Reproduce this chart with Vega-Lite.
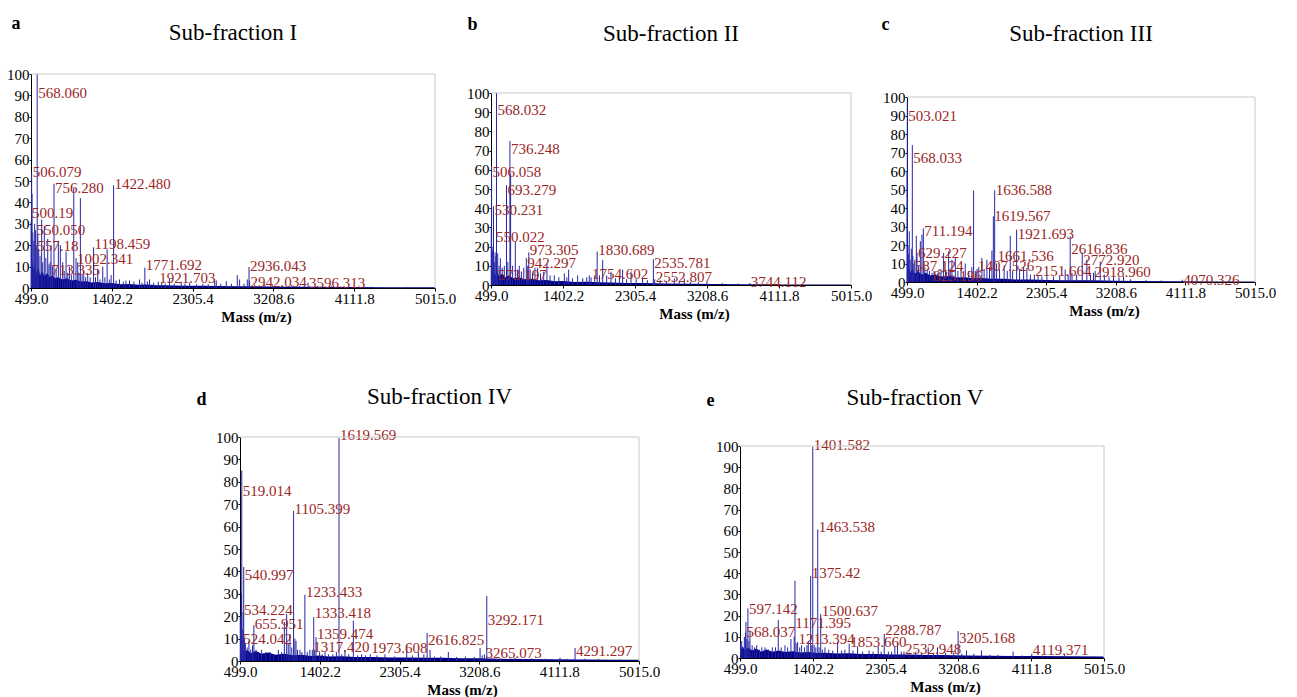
{
"$schema": "https://vega.github.io/schema/vega-lite/v6.json",
"padding": {"left": 6, "top": 14, "right": 0, "bottom": 0},
"background": "white",
"config": {
 "view": {"stroke": null},
 "font": "Liberation Serif",
 "title": {"font": "Liberation Serif", "fontSize": 23, "fontWeight": "normal", "color": "black", "anchor": "middle", "frame": "group"},
 "axis": {"labelFont": "Liberation Serif", "labelFontSize": 15, "labelColor": "black", "domainColor": "black", "tickColor": "black", "grid": false, "titleFont": "Liberation Serif", "titleColor": "black", "labelFlush": false, "labelOverlap": false},
 "axisX": {"format": ".1f", "tickSize": 3, "labelPadding": 0, "titleFontSize": 15, "titleFontWeight": "bold", "titlePadding": 3},
 "axisY": {"tickSize": 2, "labelPadding": 0, "titleAngle": 0, "titleAlign": "left", "titleBaseline": "alphabetic", "titleFontSize": 18, "titleFontWeight": "bold"}
},
"datasets": {
 "peaks": [
  {"p":"a","mz":500,"y":31},{"p":"a","mz":506.079,"y":54},{"p":"a","mz":511,"y":44},{"p":"a","mz":520,"y":26},{"p":"a","mz":530,"y":22},{"p":"a","mz":540,"y":30},{"p":"a","mz":550.05,"y":27},{"p":"a","mz":557.18,"y":20},{"p":"a","mz":568.06,"y":100},{"p":"a","mz":575,"y":25},{"p":"a","mz":585,"y":18},{"p":"a","mz":600,"y":15},{"p":"a","mz":618,"y":32},{"p":"a","mz":630,"y":12},{"p":"a","mz":648,"y":29},{"p":"a","mz":665,"y":14},{"p":"a","mz":686,"y":23},{"p":"a","mz":700,"y":11},{"p":"a","mz":713.335,"y":12},{"p":"a","mz":723,"y":20},{"p":"a","mz":740,"y":10},{"p":"a","mz":756.28,"y":48.7},{"p":"a","mz":780,"y":9},{"p":"a","mz":805,"y":22},{"p":"a","mz":827,"y":20},{"p":"a","mz":853,"y":12},{"p":"a","mz":870,"y":8},{"p":"a","mz":891,"y":17},{"p":"a","mz":910,"y":7},{"p":"a","mz":928,"y":10},{"p":"a","mz":950,"y":6},{"p":"a","mz":977,"y":46.6},{"p":"a","mz":1002.341,"y":14},{"p":"a","mz":1021,"y":12},{"p":"a","mz":1035,"y":7},{"p":"a","mz":1051,"y":42},{"p":"a","mz":1070,"y":6},{"p":"a","mz":1089,"y":8},{"p":"a","mz":1110,"y":5},{"p":"a","mz":1133,"y":7},{"p":"a","mz":1160,"y":5},{"p":"a","mz":1198.459,"y":19},{"p":"a","mz":1220,"y":5},{"p":"a","mz":1245,"y":9},{"p":"a","mz":1270,"y":4},{"p":"a","mz":1301,"y":10},{"p":"a","mz":1325,"y":5},{"p":"a","mz":1350,"y":18},{"p":"a","mz":1375,"y":4},{"p":"a","mz":1395,"y":6},{"p":"a","mz":1422.48,"y":48},{"p":"a","mz":1450,"y":3.5},{"p":"a","mz":1488,"y":4},{"p":"a","mz":1530,"y":3},{"p":"a","mz":1560,"y":3.5},{"p":"a","mz":1600,"y":3.5},{"p":"a","mz":1650,"y":3},{"p":"a","mz":1712,"y":4},{"p":"a","mz":1740,"y":2.5},{"p":"a","mz":1771.692,"y":9.5},{"p":"a","mz":1800,"y":3},{"p":"a","mz":1824,"y":4},{"p":"a","mz":1870,"y":2.5},{"p":"a","mz":1921.703,"y":3},{"p":"a","mz":1960,"y":2.5},{"p":"a","mz":2000,"y":2},{"p":"a","mz":2048,"y":4.5},{"p":"a","mz":2100,"y":2},{"p":"a","mz":2178,"y":3},{"p":"a","mz":2220,"y":2},{"p":"a","mz":2272,"y":2.5},{"p":"a","mz":2350,"y":1.8},{"p":"a","mz":2420,"y":2},{"p":"a","mz":2480,"y":1.8},{"p":"a","mz":2552,"y":4},{"p":"a","mz":2570,"y":3.5},{"p":"a","mz":2620,"y":2},{"p":"a","mz":2682,"y":3.2},{"p":"a","mz":2740,"y":2},{"p":"a","mz":2805,"y":6},{"p":"a","mz":2831,"y":4},{"p":"a","mz":2880,"y":2},{"p":"a","mz":2917,"y":4},{"p":"a","mz":2936.043,"y":9.8},{"p":"a","mz":2942.034,"y":3.5},{"p":"a","mz":3000,"y":1.5},{"p":"a","mz":3112,"y":1.5},{"p":"a","mz":3200,"y":1.2},{"p":"a","mz":3300,"y":1},{"p":"a","mz":3410,"y":1.2},{"p":"a","mz":3500,"y":1},{"p":"a","mz":3596.313,"y":2.5},{"p":"a","mz":3700,"y":0.9},{"p":"a","mz":3858,"y":0.8},{"p":"a","mz":4000,"y":0.7},{"p":"a","mz":4300,"y":0.6},{"p":"a","mz":4700,"y":0.5},
  {"p":"b","mz":502,"y":30},{"p":"b","mz":506.058,"y":62},{"p":"b","mz":512,"y":20},{"p":"b","mz":520,"y":18},{"p":"b","mz":530.231,"y":41},{"p":"b","mz":540,"y":12},{"p":"b","mz":550.022,"y":17},{"p":"b","mz":560,"y":15},{"p":"b","mz":568.032,"y":100},{"p":"b","mz":573.197,"y":8},{"p":"b","mz":583,"y":16.5},{"p":"b","mz":600,"y":10},{"p":"b","mz":616,"y":14},{"p":"b","mz":640,"y":9},{"p":"b","mz":666,"y":10},{"p":"b","mz":693.279,"y":52},{"p":"b","mz":710,"y":12},{"p":"b","mz":736.248,"y":75},{"p":"b","mz":745,"y":58},{"p":"b","mz":770,"y":10},{"p":"b","mz":804,"y":22.6},{"p":"b","mz":830,"y":8},{"p":"b","mz":854,"y":10},{"p":"b","mz":880,"y":7},{"p":"b","mz":910,"y":9},{"p":"b","mz":942.297,"y":14},{"p":"b","mz":960,"y":10},{"p":"b","mz":973.305,"y":17},{"p":"b","mz":990,"y":8},{"p":"b","mz":1020,"y":6},{"p":"b","mz":1050,"y":9},{"p":"b","mz":1084,"y":9},{"p":"b","mz":1120,"y":6},{"p":"b","mz":1160,"y":7},{"p":"b","mz":1201,"y":11},{"p":"b","mz":1240,"y":5},{"p":"b","mz":1293,"y":5},{"p":"b","mz":1350,"y":4},{"p":"b","mz":1419,"y":6},{"p":"b","mz":1450,"y":4},{"p":"b","mz":1473,"y":8},{"p":"b","mz":1520,"y":3.5},{"p":"b","mz":1586,"y":5},{"p":"b","mz":1650,"y":3.5},{"p":"b","mz":1700,"y":4},{"p":"b","mz":1732,"y":5},{"p":"b","mz":1754.602,"y":4},{"p":"b","mz":1800,"y":5},{"p":"b","mz":1830.689,"y":17.4},{"p":"b","mz":1860,"y":5},{"p":"b","mz":1900,"y":13},{"p":"b","mz":1950,"y":5},{"p":"b","mz":2004,"y":7},{"p":"b","mz":2060,"y":3.5},{"p":"b","mz":2110,"y":4},{"p":"b","mz":2150,"y":8},{"p":"b","mz":2200,"y":3},{"p":"b","mz":2255,"y":7},{"p":"b","mz":2320,"y":3},{"p":"b","mz":2401,"y":4},{"p":"b","mz":2460,"y":2.5},{"p":"b","mz":2535.781,"y":13.4},{"p":"b","mz":2552.807,"y":3},{"p":"b","mz":2620,"y":2.5},{"p":"b","mz":2700,"y":2},{"p":"b","mz":2799,"y":3.5},{"p":"b","mz":2860,"y":2},{"p":"b","mz":2924,"y":3.5},{"p":"b","mz":3000,"y":1.5},{"p":"b","mz":3100,"y":1.5},{"p":"b","mz":3208,"y":1.7},{"p":"b","mz":3400,"y":1},{"p":"b","mz":3600,"y":0.8},{"p":"b","mz":3744.112,"y":1},{"p":"b","mz":4000,"y":0.6},{"p":"b","mz":4400,"y":0.5},
  {"p":"c","mz":500,"y":60},{"p":"c","mz":503.021,"y":98},{"p":"c","mz":512,"y":20},{"p":"c","mz":520,"y":15},{"p":"c","mz":529,"y":27.4},{"p":"c","mz":540,"y":12},{"p":"c","mz":555,"y":18},{"p":"c","mz":568.033,"y":74},{"p":"c","mz":575,"y":14},{"p":"c","mz":587.124,"y":10},{"p":"c","mz":600,"y":12},{"p":"c","mz":620,"y":25},{"p":"c","mz":629.227,"y":15.7},{"p":"c","mz":650,"y":9},{"p":"c","mz":672,"y":22},{"p":"c","mz":693,"y":25.6},{"p":"c","mz":711.194,"y":29},{"p":"c","mz":730,"y":8},{"p":"c","mz":760,"y":7},{"p":"c","mz":790,"y":6},{"p":"c","mz":823,"y":5},{"p":"c","mz":850,"y":6},{"p":"c","mz":900,"y":5},{"p":"c","mz":940,"y":7},{"p":"c","mz":974,"y":15.7},{"p":"c","mz":1000,"y":6},{"p":"c","mz":1039,"y":16.5},{"p":"c","mz":1060,"y":7},{"p":"c","mz":1082,"y":12},{"p":"c","mz":1126,"y":13.5},{"p":"c","mz":1160,"y":6},{"p":"c","mz":1200,"y":7},{"p":"c","mz":1255,"y":10},{"p":"c","mz":1300,"y":6},{"p":"c","mz":1340,"y":8},{"p":"c","mz":1363,"y":49.4},{"p":"c","mz":1385,"y":6},{"p":"c","mz":1407.526,"y":7},{"p":"c","mz":1430,"y":8},{"p":"c","mz":1471,"y":13},{"p":"c","mz":1500,"y":7},{"p":"c","mz":1536,"y":12},{"p":"c","mz":1570,"y":8},{"p":"c","mz":1601,"y":17},{"p":"c","mz":1619.567,"y":35.5},{"p":"c","mz":1636.588,"y":49.5},{"p":"c","mz":1661.536,"y":10},{"p":"c","mz":1700,"y":7},{"p":"c","mz":1760,"y":9},{"p":"c","mz":1800,"y":6},{"p":"c","mz":1839,"y":25},{"p":"c","mz":1870,"y":6},{"p":"c","mz":1921.693,"y":28.3},{"p":"c","mz":1960,"y":7},{"p":"c","mz":2012,"y":8},{"p":"c","mz":2055,"y":7.5},{"p":"c","mz":2100,"y":4},{"p":"c","mz":2151.664,"y":4},{"p":"c","mz":2200,"y":3.5},{"p":"c","mz":2250,"y":3},{"p":"c","mz":2314,"y":4},{"p":"c","mz":2400,"y":3},{"p":"c","mz":2480,"y":3.5},{"p":"c","mz":2552,"y":6.7},{"p":"c","mz":2590,"y":4},{"p":"c","mz":2616.836,"y":24.7},{"p":"c","mz":2640,"y":5},{"p":"c","mz":2700,"y":4},{"p":"c","mz":2772.92,"y":16},{"p":"c","mz":2833,"y":12},{"p":"c","mz":2880,"y":4},{"p":"c","mz":2918.96,"y":5},{"p":"c","mz":2941,"y":6},{"p":"c","mz":3006,"y":11},{"p":"c","mz":3060,"y":4},{"p":"c","mz":3120,"y":3},{"p":"c","mz":3179,"y":3},{"p":"c","mz":3250,"y":2.5},{"p":"c","mz":3308,"y":3},{"p":"c","mz":3400,"y":1.5},{"p":"c","mz":3600,"y":1},{"p":"c","mz":3800,"y":0.8},{"p":"c","mz":4070.326,"y":1.2},{"p":"c","mz":4400,"y":0.5},
  {"p":"d","mz":502,"y":20},{"p":"d","mz":505,"y":12},{"p":"d","mz":510,"y":17},{"p":"d","mz":515,"y":30},{"p":"d","mz":519.014,"y":85},{"p":"d","mz":524.042,"y":10},{"p":"d","mz":530,"y":14},{"p":"d","mz":534.224,"y":22},{"p":"d","mz":540.997,"y":42},{"p":"d","mz":550,"y":10},{"p":"d","mz":560,"y":8},{"p":"d","mz":580,"y":6},{"p":"d","mz":600,"y":9},{"p":"d","mz":620,"y":5},{"p":"d","mz":640,"y":7},{"p":"d","mz":655.951,"y":16},{"p":"d","mz":680,"y":5},{"p":"d","mz":710,"y":4},{"p":"d","mz":744,"y":5},{"p":"d","mz":790,"y":4},{"p":"d","mz":839,"y":4},{"p":"d","mz":880,"y":3},{"p":"d","mz":933,"y":5},{"p":"d","mz":970,"y":4},{"p":"d","mz":1001,"y":17.4},{"p":"d","mz":1027,"y":21},{"p":"d","mz":1045,"y":8},{"p":"d","mz":1065,"y":12},{"p":"d","mz":1085,"y":6},{"p":"d","mz":1105.399,"y":67},{"p":"d","mz":1120,"y":10},{"p":"d","mz":1133,"y":9},{"p":"d","mz":1150,"y":5},{"p":"d","mz":1178,"y":5},{"p":"d","mz":1200,"y":4},{"p":"d","mz":1233.433,"y":29.6},{"p":"d","mz":1260,"y":4},{"p":"d","mz":1290,"y":5},{"p":"d","mz":1317.42,"y":5},{"p":"d","mz":1333.418,"y":19.6},{"p":"d","mz":1345,"y":5},{"p":"d","mz":1359.474,"y":10.7},{"p":"d","mz":1400,"y":4},{"p":"d","mz":1430,"y":3},{"p":"d","mz":1461,"y":4},{"p":"d","mz":1500,"y":3},{"p":"d","mz":1550,"y":3},{"p":"d","mz":1590,"y":4},{"p":"d","mz":1619.569,"y":99.5},{"p":"d","mz":1650,"y":3},{"p":"d","mz":1687,"y":5},{"p":"d","mz":1730,"y":3},{"p":"d","mz":1782,"y":18},{"p":"d","mz":1830,"y":2.5},{"p":"d","mz":1876,"y":3},{"p":"d","mz":1920,"y":2.5},{"p":"d","mz":1973.608,"y":3},{"p":"d","mz":2050,"y":2.5},{"p":"d","mz":2140,"y":3},{"p":"d","mz":2250,"y":2},{"p":"d","mz":2386,"y":7},{"p":"d","mz":2450,"y":2.5},{"p":"d","mz":2518,"y":4},{"p":"d","mz":2580,"y":3},{"p":"d","mz":2616.825,"y":12.5},{"p":"d","mz":2650,"y":5},{"p":"d","mz":2700,"y":2},{"p":"d","mz":2770,"y":2},{"p":"d","mz":2857,"y":4},{"p":"d","mz":2950,"y":1.8},{"p":"d","mz":3050,"y":2},{"p":"d","mz":3150,"y":1.8},{"p":"d","mz":3216,"y":5.8},{"p":"d","mz":3240,"y":2.5},{"p":"d","mz":3265.073,"y":3},{"p":"d","mz":3292.171,"y":29},{"p":"d","mz":3350,"y":1.5},{"p":"d","mz":3450,"y":1.2},{"p":"d","mz":3612,"y":1.5},{"p":"d","mz":3800,"y":1.2},{"p":"d","mz":3950,"y":1},{"p":"d","mz":4121,"y":1.5},{"p":"d","mz":4200,"y":1},{"p":"d","mz":4291.297,"y":5.8},{"p":"d","mz":4400,"y":1},{"p":"d","mz":4555,"y":1},{"p":"d","mz":4800,"y":0.8},
  {"p":"e","mz":505,"y":7},{"p":"e","mz":520,"y":8},{"p":"e","mz":535,"y":5},{"p":"e","mz":553,"y":10},{"p":"e","mz":568.037,"y":12},{"p":"e","mz":573,"y":17},{"p":"e","mz":585,"y":9},{"p":"e","mz":597.142,"y":23.4},{"p":"e","mz":610,"y":8},{"p":"e","mz":623,"y":13},{"p":"e","mz":650,"y":6},{"p":"e","mz":680,"y":5},{"p":"e","mz":706,"y":6},{"p":"e","mz":740,"y":4},{"p":"e","mz":770,"y":5},{"p":"e","mz":809,"y":5},{"p":"e","mz":850,"y":4},{"p":"e","mz":900,"y":5},{"p":"e","mz":940,"y":5},{"p":"e","mz":974,"y":18},{"p":"e","mz":1010,"y":5},{"p":"e","mz":1057,"y":6},{"p":"e","mz":1090,"y":5},{"p":"e","mz":1131,"y":9},{"p":"e","mz":1171.395,"y":10},{"p":"e","mz":1181,"y":36.4},{"p":"e","mz":1195,"y":7},{"p":"e","mz":1213.394,"y":7.5},{"p":"e","mz":1240,"y":5},{"p":"e","mz":1263,"y":6},{"p":"e","mz":1300,"y":5},{"p":"e","mz":1330,"y":6},{"p":"e","mz":1346,"y":8},{"p":"e","mz":1375.42,"y":38.8},{"p":"e","mz":1390,"y":6},{"p":"e","mz":1401.582,"y":99.7},{"p":"e","mz":1420,"y":6},{"p":"e","mz":1440,"y":5},{"p":"e","mz":1463.538,"y":60.6},{"p":"e","mz":1480,"y":5},{"p":"e","mz":1500.637,"y":20.8},{"p":"e","mz":1520,"y":4},{"p":"e","mz":1553,"y":5},{"p":"e","mz":1600,"y":4},{"p":"e","mz":1650,"y":3.5},{"p":"e","mz":1710,"y":7.5},{"p":"e","mz":1760,"y":3.5},{"p":"e","mz":1800,"y":4},{"p":"e","mz":1853.66,"y":6.7},{"p":"e","mz":1900,"y":3.5},{"p":"e","mz":1958,"y":5.5},{"p":"e","mz":2020,"y":3},{"p":"e","mz":2100,"y":3.5},{"p":"e","mz":2150,"y":3},{"p":"e","mz":2214,"y":5.5},{"p":"e","mz":2250,"y":3},{"p":"e","mz":2288.787,"y":11.4},{"p":"e","mz":2340,"y":3},{"p":"e","mz":2380,"y":3},{"p":"e","mz":2420,"y":5.5},{"p":"e","mz":2453,"y":7.5},{"p":"e","mz":2500,"y":3},{"p":"e","mz":2532.948,"y":3},{"p":"e","mz":2600,"y":2.5},{"p":"e","mz":2680,"y":3},{"p":"e","mz":2750,"y":2.5},{"p":"e","mz":2834,"y":5},{"p":"e","mz":2900,"y":2.5},{"p":"e","mz":2949,"y":5},{"p":"e","mz":3050,"y":2.5},{"p":"e","mz":3150,"y":2.5},{"p":"e","mz":3205.168,"y":12.7},{"p":"e","mz":3250,"y":2},{"p":"e","mz":3309,"y":3.5},{"p":"e","mz":3400,"y":2},{"p":"e","mz":3495,"y":3.5},{"p":"e","mz":3600,"y":1.5},{"p":"e","mz":3700,"y":1.5},{"p":"e","mz":3887,"y":3},{"p":"e","mz":4000,"y":1.2},{"p":"e","mz":4119.371,"y":2},{"p":"e","mz":4250,"y":1.2},{"p":"e","mz":4400,"y":1},{"p":"e","mz":4528,"y":1.5},{"p":"e","mz":4700,"y":1},{"p":"e","mz":4900,"y":0.8}
 ],
 "labels": [
  {"p":"a","t":"568.060","mz":568.06,"y":91},{"p":"a","t":"506.079","mz":506.079,"y":54},{"p":"a","t":"756.280","mz":756.28,"y":46.6},{"p":"a","t":"1422.480","mz":1422.48,"y":48.5},{"p":"a","t":"500.19","mz":500.19,"y":35},{"p":"a","t":"550.050","mz":550.05,"y":27},{"p":"a","t":"557.18","mz":557.18,"y":19.5},{"p":"a","t":"1198.459","mz":1198.459,"y":20.5},{"p":"a","t":"1002.341","mz":1002.341,"y":13.7},{"p":"a","t":"713.335","mz":713.335,"y":8.6},{"p":"a","t":"1771.692","mz":1771.692,"y":10.6},{"p":"a","t":"1921.703","mz":1921.703,"y":4.7},{"p":"a","t":"2936.043","mz":2936.043,"y":10.2},{"p":"a","t":"2942.034","mz":2942.034,"y":2.6},{"p":"a","t":"3596.313","mz":3596.313,"y":2.3},
  {"p":"b","t":"568.032","mz":568.032,"y":91},{"p":"b","t":"736.248","mz":736.248,"y":71},{"p":"b","t":"506.058","mz":506.058,"y":59},{"p":"b","t":"693.279","mz":693.279,"y":49.5},{"p":"b","t":"530.231","mz":530.231,"y":39},{"p":"b","t":"550.022","mz":550.022,"y":25},{"p":"b","t":"973.305","mz":973.305,"y":18},{"p":"b","t":"942.297","mz":942.297,"y":11.6},{"p":"b","t":"573.197","mz":573.197,"y":5.2},{"p":"b","t":"1830.689","mz":1830.689,"y":18},{"p":"b","t":"1754.602","mz":1754.602,"y":5.7},{"p":"b","t":"2535.781","mz":2535.781,"y":11.3},{"p":"b","t":"2552.807","mz":2552.807,"y":4.3},{"p":"b","t":"3744.112","mz":3744.112,"y":1.7},
  {"p":"c","t":"503.021","mz":503.021,"y":90},{"p":"c","t":"568.033","mz":568.033,"y":67},{"p":"c","t":"1636.588","mz":1636.588,"y":50},{"p":"c","t":"1619.567","mz":1619.567,"y":35.5},{"p":"c","t":"711.194","mz":711.194,"y":27.4},{"p":"c","t":"1921.693","mz":1921.693,"y":26},{"p":"c","t":"629.227","mz":629.227,"y":15.7},{"p":"c","t":"2616.836","mz":2616.836,"y":17.8},{"p":"c","t":"1661.536","mz":1661.536,"y":14.2},{"p":"c","t":"2772.920","mz":2772.92,"y":12},{"p":"c","t":"587.124","mz":587.124,"y":8.8},{"p":"c","t":"1407.526","mz":1407.526,"y":8.5},{"p":"c","t":"2151.664","mz":2151.664,"y":5.8},{"p":"c","t":"2918.960","mz":2918.96,"y":5.2},{"p":"c","t":"825.196","mz":825.196,"y":3},{"p":"c","t":"4070.326","mz":4070.326,"y":1.3},
  {"p":"d","t":"1619.569","mz":1619.569,"y":100.7},{"p":"d","t":"519.014","mz":519.014,"y":76},{"p":"d","t":"1105.399","mz":1105.399,"y":68},{"p":"d","t":"540.997","mz":540.997,"y":38.5},{"p":"d","t":"1233.433","mz":1233.433,"y":30.8},{"p":"d","t":"534.224","mz":534.224,"y":22.6},{"p":"d","t":"1333.418","mz":1333.418,"y":21.4},{"p":"d","t":"3292.171","mz":3292.171,"y":18.5},{"p":"d","t":"655.951","mz":655.951,"y":16.7},{"p":"d","t":"1359.474","mz":1359.474,"y":12.2},{"p":"d","t":"524.042","mz":524.042,"y":10},{"p":"d","t":"2616.825","mz":2616.825,"y":9.2},{"p":"d","t":"1317.420","mz":1317.42,"y":6.2},{"p":"d","t":"1973.608","mz":1973.608,"y":5.8},{"p":"d","t":"3265.073","mz":3265.073,"y":3.6},{"p":"d","t":"4291.297","mz":4291.297,"y":4.5},
  {"p":"e","t":"1401.582","mz":1401.582,"y":100.5},{"p":"e","t":"1463.538","mz":1463.538,"y":62},{"p":"e","t":"1375.42","mz":1375.42,"y":40},{"p":"e","t":"1500.637","mz":1500.637,"y":22.3},{"p":"e","t":"597.142","mz":597.142,"y":23},{"p":"e","t":"1171.395","mz":1171.395,"y":16.4},{"p":"e","t":"2288.787","mz":2288.787,"y":13},{"p":"e","t":"568.037","mz":568.037,"y":12.5},{"p":"e","t":"3205.168","mz":3205.168,"y":9.4},{"p":"e","t":"1213.394","mz":1213.394,"y":9},{"p":"e","t":"1853.660","mz":1853.66,"y":7.5},{"p":"e","t":"2532.948","mz":2532.948,"y":4.4},{"p":"e","t":"4119.371","mz":4119.371,"y":3.6}
 ],
 "base": [
  {"p":"a","mz":499,"y":12},{"p":"a","mz":510,"y":9},{"p":"a","mz":520,"y":13},{"p":"a","mz":530,"y":8},{"p":"a","mz":545,"y":11},{"p":"a","mz":560,"y":7},{"p":"a","mz":580,"y":10},{"p":"a","mz":600,"y":6},{"p":"a","mz":625,"y":8},{"p":"a","mz":650,"y":5.5},{"p":"a","mz":680,"y":7},{"p":"a","mz":710,"y":5},{"p":"a","mz":740,"y":6},{"p":"a","mz":770,"y":4.5},{"p":"a","mz":800,"y":5},{"p":"a","mz":850,"y":4},{"p":"a","mz":900,"y":4.5},{"p":"a","mz":950,"y":3.5},{"p":"a","mz":1000,"y":3.8},{"p":"a","mz":1060,"y":3},{"p":"a","mz":1120,"y":3.2},{"p":"a","mz":1180,"y":2.6},{"p":"a","mz":1250,"y":2.8},{"p":"a","mz":1320,"y":2.2},{"p":"a","mz":1400,"y":2.3},{"p":"a","mz":1500,"y":1.8},{"p":"a","mz":1600,"y":1.9},{"p":"a","mz":1700,"y":1.5},{"p":"a","mz":1800,"y":1.6},{"p":"a","mz":1900,"y":1.3},{"p":"a","mz":2000,"y":1.3},{"p":"a","mz":2200,"y":1.1},{"p":"a","mz":2400,"y":1},{"p":"a","mz":2600,"y":0.9},{"p":"a","mz":2800,"y":0.8},{"p":"a","mz":3000,"y":0.8},{"p":"a","mz":3300,"y":0.6},{"p":"a","mz":3600,"y":0.6},{"p":"a","mz":4000,"y":0.5},{"p":"a","mz":4500,"y":0.4},{"p":"a","mz":5015,"y":0.4},
  {"p":"b","mz":499,"y":8},{"p":"b","mz":515,"y":6},{"p":"b","mz":530,"y":9},{"p":"b","mz":550,"y":5},{"p":"b","mz":575,"y":7},{"p":"b","mz":600,"y":4.5},{"p":"b","mz":640,"y":6},{"p":"b","mz":680,"y":4},{"p":"b","mz":720,"y":5},{"p":"b","mz":780,"y":3.5},{"p":"b","mz":850,"y":4},{"p":"b","mz":920,"y":3},{"p":"b","mz":1000,"y":3.2},{"p":"b","mz":1100,"y":2.5},{"p":"b","mz":1200,"y":2.6},{"p":"b","mz":1300,"y":2},{"p":"b","mz":1400,"y":2.1},{"p":"b","mz":1550,"y":1.6},{"p":"b","mz":1700,"y":1.7},{"p":"b","mz":1850,"y":1.4},{"p":"b","mz":2000,"y":1.3},{"p":"b","mz":2200,"y":1.1},{"p":"b","mz":2400,"y":1},{"p":"b","mz":2700,"y":0.8},{"p":"b","mz":3000,"y":0.7},{"p":"b","mz":3300,"y":0.5},{"p":"b","mz":3700,"y":0.4},{"p":"b","mz":4200,"y":0.3},{"p":"b","mz":5015,"y":0.3},
  {"p":"c","mz":499,"y":9},{"p":"c","mz":510,"y":6},{"p":"c","mz":525,"y":8},{"p":"c","mz":545,"y":5},{"p":"c","mz":570,"y":7},{"p":"c","mz":600,"y":4.5},{"p":"c","mz":640,"y":6},{"p":"c","mz":690,"y":4},{"p":"c","mz":740,"y":5},{"p":"c","mz":800,"y":3.5},{"p":"c","mz":870,"y":4},{"p":"c","mz":950,"y":3},{"p":"c","mz":1050,"y":3.2},{"p":"c","mz":1150,"y":2.5},{"p":"c","mz":1250,"y":2.6},{"p":"c","mz":1350,"y":2},{"p":"c","mz":1450,"y":2.2},{"p":"c","mz":1600,"y":1.7},{"p":"c","mz":1750,"y":1.8},{"p":"c","mz":1900,"y":1.4},{"p":"c","mz":2100,"y":1.3},{"p":"c","mz":2300,"y":1.1},{"p":"c","mz":2500,"y":1},{"p":"c","mz":2700,"y":1},{"p":"c","mz":2900,"y":0.9},{"p":"c","mz":3200,"y":0.7},{"p":"c","mz":3500,"y":0.5},{"p":"c","mz":4000,"y":0.4},{"p":"c","mz":4500,"y":0.3},{"p":"c","mz":5015,"y":0.3},
  {"p":"d","mz":499,"y":6},{"p":"d","mz":510,"y":4},{"p":"d","mz":525,"y":5.5},{"p":"d","mz":550,"y":3.8},{"p":"d","mz":580,"y":5},{"p":"d","mz":620,"y":3.5},{"p":"d","mz":680,"y":4.5},{"p":"d","mz":740,"y":3.2},{"p":"d","mz":820,"y":3.8},{"p":"d","mz":900,"y":2.8},{"p":"d","mz":1000,"y":3.2},{"p":"d","mz":1100,"y":2.6},{"p":"d","mz":1200,"y":2.8},{"p":"d","mz":1300,"y":2.2},{"p":"d","mz":1400,"y":2.4},{"p":"d","mz":1500,"y":2},{"p":"d","mz":1650,"y":2.1},{"p":"d","mz":1800,"y":1.8},{"p":"d","mz":2000,"y":1.8},{"p":"d","mz":2200,"y":1.6},{"p":"d","mz":2400,"y":1.6},{"p":"d","mz":2600,"y":1.4},{"p":"d","mz":2800,"y":1.4},{"p":"d","mz":3000,"y":1.2},{"p":"d","mz":3200,"y":1.2},{"p":"d","mz":3400,"y":1},{"p":"d","mz":3700,"y":0.9},{"p":"d","mz":4000,"y":0.8},{"p":"d","mz":4400,"y":0.7},{"p":"d","mz":4800,"y":0.6},{"p":"d","mz":5015,"y":0.6},
  {"p":"e","mz":499,"y":6},{"p":"e","mz":510,"y":4},{"p":"e","mz":530,"y":5.5},{"p":"e","mz":560,"y":3.5},{"p":"e","mz":600,"y":5},{"p":"e","mz":650,"y":3.5},{"p":"e","mz":700,"y":4.5},{"p":"e","mz":760,"y":3},{"p":"e","mz":830,"y":4},{"p":"e","mz":900,"y":3},{"p":"e","mz":980,"y":3.5},{"p":"e","mz":1060,"y":2.8},{"p":"e","mz":1150,"y":3.2},{"p":"e","mz":1250,"y":2.6},{"p":"e","mz":1350,"y":2.8},{"p":"e","mz":1450,"y":2.3},{"p":"e","mz":1550,"y":2.5},{"p":"e","mz":1700,"y":2.1},{"p":"e","mz":1850,"y":2.2},{"p":"e","mz":2000,"y":1.9},{"p":"e","mz":2200,"y":1.9},{"p":"e","mz":2400,"y":1.6},{"p":"e","mz":2600,"y":1.6},{"p":"e","mz":2800,"y":1.4},{"p":"e","mz":3000,"y":1.4},{"p":"e","mz":3300,"y":1.2},{"p":"e","mz":3600,"y":1.1},{"p":"e","mz":3900,"y":1},{"p":"e","mz":4200,"y":0.9},{"p":"e","mz":4600,"y":0.8},{"p":"e","mz":5015,"y":0.7}
 ]
},
"bounds": "flush",
"spacing": 363,
"vconcat": [
 {"bounds": "flush", "spacing": 56, "hconcat": [
  {"width": 404, "height": 214, "title": {"text": "Sub-fraction I", "offset": -31},
   "encoding": {
    "x": {"field": "mz", "type": "quantitative", "scale": {"domain": [499, 5015], "nice": false, "zero": false}, "axis": {"title": "Mass (m/z)", "titleX": 225, "values": [499, 1402.2, 2305.4, 3208.6, 4111.8, 5015], "labelOverlap": false}},
    "y": {"field": "y", "type": "quantitative", "scale": {"domain": [0, 100], "nice": false, "range": [214, 0]}, "axis": {"title": "a", "titleX": -20, "titleY": -46, "values": [0,10,20,30,40,50,60,70,80,90,100], "labelOverlap": false}}},
   "layer": [
    {"data": {"name": "base"}, "transform": [{"filter": "datum.p === 'a'"}], "mark": {"type": "area", "color": "#000080"}},
    {"data": {"name": "peaks"}, "transform": [{"filter": "datum.p === 'a'"}], "mark": {"type": "rule", "color": "#2626a6", "strokeWidth": 1}, "encoding": {"y2": {"datum": 0}}},
    {"data": {"name": "labels"}, "transform": [{"filter": "datum.p === 'a'"}], "mark": {"type": "text", "align": "left", "baseline": "middle", "dx": 1, "color": "#9b2626", "font": "Liberation Serif", "fontSize": 15}, "encoding": {"text": {"field": "t", "type": "nominal"}}},
    {"data": {"values": [{"mz": 499, "x2": 5015, "y": 100}]}, "mark": {"type": "rule", "color": "#c8c8c8"}, "encoding": {"x2": {"field": "x2"}}},
    {"data": {"values": [{"mz": 5015, "y": 0, "y2": 100}]}, "mark": {"type": "rule", "color": "#c8c8c8"}, "encoding": {"y2": {"field": "y2"}}}
   ]},
  {"width": 360, "height": 211, "title": {"text": "Sub-fraction II", "offset": -31},
   "encoding": {
    "x": {"field": "mz", "type": "quantitative", "scale": {"domain": [499, 5015], "nice": false, "zero": false}, "axis": {"title": "Mass (m/z)", "titleX": 203, "values": [499, 1402.2, 2305.4, 3208.6, 4111.8, 5015], "labelOverlap": false}},
    "y": {"field": "y", "type": "quantitative", "scale": {"domain": [0, 100], "nice": false, "range": [211, 19]}, "axis": {"title": "b", "titleX": -24, "titleY": -45, "values": [0,10,20,30,40,50,60,70,80,90,100], "labelOverlap": false}}},
   "layer": [
    {"data": {"name": "base"}, "transform": [{"filter": "datum.p === 'b'"}], "mark": {"type": "area", "color": "#000080"}},
    {"data": {"name": "peaks"}, "transform": [{"filter": "datum.p === 'b'"}], "mark": {"type": "rule", "color": "#2626a6", "strokeWidth": 1}, "encoding": {"y2": {"datum": 0}}},
    {"data": {"name": "labels"}, "transform": [{"filter": "datum.p === 'b'"}], "mark": {"type": "text", "align": "left", "baseline": "middle", "dx": 1, "color": "#9b2626", "font": "Liberation Serif", "fontSize": 15}, "encoding": {"text": {"field": "t", "type": "nominal"}}},
    {"data": {"values": [{"mz": 499, "x2": 5015, "y": 100}]}, "mark": {"type": "rule", "color": "#c8c8c8"}, "encoding": {"x2": {"field": "x2"}}},
    {"data": {"values": [{"mz": 5015, "y": 0, "y2": 100}]}, "mark": {"type": "rule", "color": "#c8c8c8"}, "encoding": {"y2": {"field": "y2"}}}
   ]},
  {"width": 348, "height": 208, "title": {"text": "Sub-fraction III", "offset": -31},
   "encoding": {
    "x": {"field": "mz", "type": "quantitative", "scale": {"domain": [499, 5015], "nice": false, "zero": false}, "axis": {"title": "Mass (m/z)", "titleX": 197, "values": [499, 1402.2, 2305.4, 3208.6, 4111.8, 5015], "labelOverlap": false}},
    "y": {"field": "y", "type": "quantitative", "scale": {"domain": [0, 100], "nice": false, "range": [208, 23]}, "axis": {"title": "c", "titleX": -26, "titleY": -45, "values": [0,10,20,30,40,50,60,70,80,90,100], "labelOverlap": false}}},
   "layer": [
    {"data": {"name": "base"}, "transform": [{"filter": "datum.p === 'c'"}], "mark": {"type": "area", "color": "#000080"}},
    {"data": {"name": "peaks"}, "transform": [{"filter": "datum.p === 'c'"}], "mark": {"type": "rule", "color": "#2626a6", "strokeWidth": 1}, "encoding": {"y2": {"datum": 0}}},
    {"data": {"name": "labels"}, "transform": [{"filter": "datum.p === 'c'"}], "mark": {"type": "text", "align": "left", "baseline": "middle", "dx": 1, "color": "#9b2626", "font": "Liberation Serif", "fontSize": 15}, "encoding": {"text": {"field": "t", "type": "nominal"}}},
    {"data": {"values": [{"mz": 499, "x2": 5015, "y": 100}]}, "mark": {"type": "rule", "color": "#c8c8c8"}, "encoding": {"x2": {"field": "x2"}}},
    {"data": {"values": [{"mz": 5015, "y": 0, "y2": 100}]}, "mark": {"type": "rule", "color": "#c8c8c8"}, "encoding": {"y2": {"field": "y2"}}}
   ]}
 ]},
 {"bounds": "flush", "spacing": 101, "hconcat": [
  {"width": 108, "height": 10, "data": {"values": [{"k": 1}]}, "mark": {"type": "point", "opacity": 0}, "encoding": {"x": {"field": "k", "type": "quantitative", "axis": null}, "y": {"field": "k", "type": "quantitative", "axis": null}}},
  {"width": 399, "height": 224, "title": {"text": "Sub-fraction IV", "offset": -19},
   "encoding": {
    "x": {"field": "mz", "type": "quantitative", "scale": {"domain": [499, 5015], "nice": false, "zero": false}, "axis": {"title": "Mass (m/z)", "titleX": 222, "values": [499, 1402.2, 2305.4, 3208.6, 4111.8, 5015], "labelOverlap": false}},
    "y": {"field": "y", "type": "quantitative", "scale": {"domain": [0, 100], "nice": false, "range": [224, 0]}, "axis": {"title": "d", "titleX": -44, "titleY": -33, "values": [0,10,20,30,40,50,60,70,80,90,100], "labelOverlap": false}}},
   "layer": [
    {"data": {"name": "base"}, "transform": [{"filter": "datum.p === 'd'"}], "mark": {"type": "area", "color": "#000080"}},
    {"data": {"name": "peaks"}, "transform": [{"filter": "datum.p === 'd'"}], "mark": {"type": "rule", "color": "#2626a6", "strokeWidth": 1}, "encoding": {"y2": {"datum": 0}}},
    {"data": {"name": "labels"}, "transform": [{"filter": "datum.p === 'd'"}], "mark": {"type": "text", "align": "left", "baseline": "middle", "dx": 1, "color": "#9b2626", "font": "Liberation Serif", "fontSize": 15}, "encoding": {"text": {"field": "t", "type": "nominal"}}},
    {"data": {"values": [{"mz": 499, "x2": 5015, "y": 100}]}, "mark": {"type": "rule", "color": "#c8c8c8"}, "encoding": {"x2": {"field": "x2"}}},
    {"data": {"values": [{"mz": 5015, "y": 0, "y2": 100}]}, "mark": {"type": "rule", "color": "#c8c8c8"}, "encoding": {"y2": {"field": "y2"}}}
   ]},
  {"width": 364, "height": 221, "title": {"text": "Sub-fraction V", "offset": -19, "dx": -7},
   "encoding": {
    "x": {"field": "mz", "type": "quantitative", "scale": {"domain": [499, 5015], "nice": false, "zero": false}, "axis": {"title": "Mass (m/z)", "titleX": 205, "values": [499, 1402.2, 2305.4, 3208.6, 4111.8, 5015], "labelOverlap": false}},
    "y": {"field": "y", "type": "quantitative", "scale": {"domain": [0, 100], "nice": false, "range": [221, 9]}, "axis": {"title": "e", "titleX": -34, "titleY": -32, "values": [0,10,20,30,40,50,60,70,80,90,100], "labelOverlap": false}}},
   "layer": [
    {"data": {"name": "base"}, "transform": [{"filter": "datum.p === 'e'"}], "mark": {"type": "area", "color": "#000080"}},
    {"data": {"name": "peaks"}, "transform": [{"filter": "datum.p === 'e'"}], "mark": {"type": "rule", "color": "#2626a6", "strokeWidth": 1}, "encoding": {"y2": {"datum": 0}}},
    {"data": {"name": "labels"}, "transform": [{"filter": "datum.p === 'e'"}], "mark": {"type": "text", "align": "left", "baseline": "middle", "dx": 1, "color": "#9b2626", "font": "Liberation Serif", "fontSize": 15}, "encoding": {"text": {"field": "t", "type": "nominal"}}},
    {"data": {"values": [{"mz": 499, "x2": 5015, "y": 100}]}, "mark": {"type": "rule", "color": "#c8c8c8"}, "encoding": {"x2": {"field": "x2"}}},
    {"data": {"values": [{"mz": 5015, "y": 0, "y2": 100}]}, "mark": {"type": "rule", "color": "#c8c8c8"}, "encoding": {"y2": {"field": "y2"}}}
   ]}
 ]}
]
}
